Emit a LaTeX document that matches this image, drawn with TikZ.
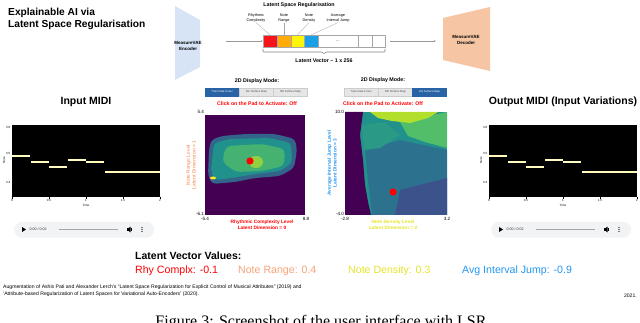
\documentclass[tikz,border=0pt]{standalone}
\usepackage{fontspec}
\setmainfont{Liberation Sans}
\newfontfamily\capfont{Liberation Serif}
\usepackage{tikz}
\usetikzlibrary{arrows.meta, positioning}
\definecolor{encblue}{RGB}{214,228,245}
\definecolor{decpeach}{RGB}{246,197,163}
\definecolor{rcred}{RGB}{245,20,25}
\definecolor{nrorange}{RGB}{255,172,10}
\definecolor{ndyellow}{RGB}{255,245,10}
\definecolor{aijblue}{RGB}{25,160,232}
\definecolor{nrtext}{RGB}{246,163,118}
\definecolor{ndtext}{RGB}{228,228,40}
\definecolor{aijtext}{RGB}{35,150,240}
\definecolor{btnblue}{RGB}{40,100,165}
\definecolor{btngray}{RGB}{230,230,230}
\definecolor{vpurple}{RGB}{68,1,84}
\definecolor{vblue}{RGB}{59,82,139}
\definecolor{vmid}{RGB}{44,113,142}
\definecolor{vteal}{RGB}{33,145,140}
\definecolor{vgreen}{RGB}{94,201,98}
\definecolor{vlime}{RGB}{180,222,44}
\definecolor{vyellow}{RGB}{253,231,37}
\definecolor{noteyel}{RGB}{255,250,190}
\definecolor{playgray}{RGB}{241,243,244}

\begin{document}
\begin{tikzpicture}[
    x=1pt, y=-1pt,
    titletxt/.style={font=\fontsize{10.2}{12}\selectfont\bfseries, inner sep=0, align=left},
    hdr/.style={font=\fontsize{10.5}{12}\selectfont\bfseries, inner sep=0},
    vaetxt/.style={font=\fontsize{4.5}{5.2}\selectfont\bfseries, align=center, inner sep=0},
    cell/.style={draw=gray!70, line width=0.4pt, minimum width=#1, minimum height=12pt, inner sep=0, outer sep=0, font=\fontsize{4}{4}\selectfont},
    celllab/.style={font=\fontsize{3.8}{4.4}\selectfont, align=center, inner sep=0.5pt},
    smallhdr/.style={font=\fontsize{5.3}{6}\selectfont\bfseries, inner sep=0},
    flow/.style={-{Latex[length=2pt, width=1.8pt]}, gray!80, line width=0.5pt},
    bracket/.style={gray, line width=0.6pt, rounded corners=0.8pt},
    btn/.style={fill=btngray, draw=gray!40, line width=0.2pt, minimum width=34pt, minimum height=8pt, inner sep=0, font=\fontsize{2.8}{3}\selectfont, text=gray!60!black},
    btnon/.style={btn, fill=btnblue, draw=btnblue, text=white},
    clicktxt/.style={font=\fontsize{5.2}{6}\selectfont\bfseries, text=red, inner sep=0},
    pad/.style={fill=vpurple, minimum width=100pt, minimum height=100pt, inner sep=0, anchor=north west},
    ticklab/.style={font=\fontsize{4.6}{5}\selectfont, inner sep=0.8pt},
    axlab/.style={font=\fontsize{4.8}{5.8}\selectfont\bfseries, align=center, inner sep=0},
    midi/.style={fill=black, minimum width=148pt, minimum height=72pt, inner sep=0, anchor=north west},
    miditick/.style={font=\fontsize{3}{3}\selectfont, inner sep=0.5pt},
    player/.style={fill=playgray, rounded corners=8pt, minimum width=140pt, minimum height=16pt, inner sep=0, anchor=north west},
    valtxt/.style={font=\fontsize{10.6}{12}\selectfont, anchor=west, inner sep=0},
    foot/.style={font=\fontsize{5.1}{7}\selectfont, align=left, inner sep=0}
]
\clip (0,0) rectangle (640,323);

% Title
\node[titletxt, anchor=north west] (title) at (8,8) {Explainable AI via\\Latent Space Regularisation};

% Encoder / decoder
\fill[encblue] (175,6) -- (200,20) -- (200,67) -- (175,80) -- cycle;
\node[vaetxt] (enc) at (188,46) {MeasureVAE\\Encoder};
\fill[decpeach] (443,18) -- (490,7) -- (490,71) -- (443,60) -- cycle;
\node[vaetxt] (dec) at (466,40) {MeasureVAE\\Decoder};
\coordinate (encout) at (226,41);
\coordinate (decin) at (436,41);

% Latent vector
\node[smallhdr] (lsr) at (299,5) {Latent Space Regularisation};
\node[cell=14pt, fill=rcred, anchor=west] (c1) at (263,41) {};
\node[cell=14pt, fill=nrorange, right=0pt of c1] (c2) {};
\node[cell=13pt, fill=ndyellow, right=0pt of c2] (c3) {};
\node[cell=14pt, fill=aijblue, right=0pt of c3] (c4) {};
\node[cell=40pt, fill=white, right=0pt of c4] (c5) {...};
\node[cell=14pt, fill=white, right=0pt of c5] (c6) {};
\node[cell=13pt, fill=white, right=0pt of c6] (c7) {};
\node[celllab] (l1) at (256,18) {Rhythmic\\Complexity};
\node[celllab] (l2) at (284,18) {Note\\Range};
\node[celllab] (l3) at (309,18) {Note\\Density};
\node[celllab] (l4) at (338,18) {Average\\Interval Jump};
\foreach \i in {1,...,4}
  \draw[gray!70, line width=0.3pt] (l\i.south) -- (c\i.north);
\draw[bracket] ([yshift=-2pt]c1.south west) -- ++(0,3) -- ++(59,0) -- ++(2,2) -- ++(2,-2) -| ([yshift=-2pt]c7.south east);
\node[smallhdr] (veclab) at (324,61) {Latent Vector -- 1 x 256};
\draw[flow] (encout) -- (c1.west);
\draw[flow] ([xshift=5pt]c7.east) -- (decin);

% MIDI plots and players
\foreach \ox/\nm/\ttl in {12/inp/{Input MIDI}, 489/outp/{Output MIDI (Input Variations)}} {
  \begin{scope}[xshift=\ox pt]
    \node[hdr] (\nm-title) at (74,101.5) {\ttl};
    \node[midi] (\nm) at (0,125) {};
    \foreach \a/\b/\y in {0/18/156, 18.5/36.5/162, 37/55/167, 55.5/73.5/160, 74/92/162, 92.5/110.5/172, 111/148/172}
      \fill[noteyel] (\a,{\y-1}) rectangle (\b,{\y+1});
    \foreach \y/\t in {127/C6, 153/C5, 182/C4}
      \node[miditick, anchor=east] at (-1,\y) {\t};
    \node[miditick, rotate=90] (\nm-ylab) at (-8,160) {Note};
    \foreach \x/\t in {0/0, 37/0.5, 74/1, 111/1.5, 148/2} {
      \draw[line width=0.3pt] (\x,197) -- (\x,199);
      \node[miditick, anchor=north] at (\x,199) {\t};
    }
    \node[miditick, anchor=north] (\nm-xlab) at (74,203.5) {Time};
    % player
    \node[player] (\nm-play) at (2,221.5) {};
    \fill (10,227) -- (10,232) -- (14,229.5) -- cycle;
    \node[miditick, font=\fontsize{3.6}{4}\selectfont, text=black!80, anchor=west] at (17,229.5) {0:00 / 0:02};
    \draw[gray!70, line width=0.8pt] (47,229.5) -- (106,229.5);
    \fill (115,228.3) rectangle (116.5,230.7);
    \fill (116.5,228.3) -- (118.5,226.6) -- (118.5,232.4) -- (116.5,230.7) -- cycle;
    \draw[line width=0.3pt] (119.5,228.2) arc[start angle=-40, end angle=40, radius=-2pt];
    \foreach \d in {227.5,229.5,231.5}
      \fill (130,\d) circle (0.55);
  \end{scope}
}

% Pad 1: rhythmic complexity / note range
\node[smallhdr] (mode1) at (257,81) {2D Display Mode:};
\node[btnon, anchor=west] (b11) at (205,92) {Train Data Cover};
\node[btn, right=0pt of b11] (b12) {RC Surface Map};
\node[btn, right=0pt of b12] (b13) {NR Surface Map};
\node[clicktxt] (click1) at (257,104) {Click on the Pad to Activate: Off};
\node[pad] (pad1) at (205,115) {};
\fill[vblue!70!vteal, rounded corners=4pt] (211,140) -- (222,136) -- (245,134) -- (275,134) -- (295,139) -- (297,150) -- (294,168) -- (280,176) -- (255,178) -- (235,182) -- (212,184) -- (208,175) -- (209,150) -- cycle;
\fill[vteal, rounded corners=4pt] (214,143) -- (230,139) -- (270,138) -- (291,143) -- (292,163) -- (280,171) -- (255,174) -- (232,178) -- (214,180) -- (211,170) -- cycle;
\fill[vgreen, opacity=0.6, rounded corners=5pt] (226,146) -- (262,144) -- (285,149) -- (284,166) -- (262,171) -- (236,172) -- (222,162) -- cycle;
\fill[vlime, opacity=0.7] (256,162) ellipse (7 and 6);
\fill[vyellow] (213,178) ellipse (3 and 1.5);
\fill[red] (250,161) circle (3.6);
\node[ticklab, anchor=south east] at (205,115) {5.4};
\node[ticklab, anchor=east] at (205,214) {-6.1};
\node[ticklab, anchor=north] at (205,216) {-5.4};
\node[ticklab, anchor=north] at (306,216) {8.8};
\node[axlab, text=red, anchor=north] (x1) at (262,220) {Rhythmic Complexity Level\\Latent Dimension = 0};
\node[axlab, text=nrtext, rotate=90] (y1) at (191,165) {Note Range Level\\Latent Dimension = 1};

% Pad 2: note density / average interval jump
\node[smallhdr] (mode2) at (383,80) {2D Display Mode:};
\node[btn, anchor=west] (b21) at (344,92) {Train Data Cover};
\node[btn, right=0pt of b21] (b22) {ND Surface Map};
\node[btnon, right=0pt of b22] (b23) {AIJ Surface Map};
\node[clicktxt] (click2) at (383,104) {Click on the Pad to Activate: Off};
\node[pad, fill=vteal, minimum width=102pt, minimum height=103pt] (pad2) at (345,112) {};
\fill[vmid] (365,150) -- (400,140) -- (447,150) -- (447,215) -- (372,215) -- (368,180) -- cycle;
\fill[vblue] (400,190) -- (447,178) -- (447,215) -- (395,215) -- cycle;
\fill[vteal!85!vgreen] (362,125) -- (385,122) -- (400,135) -- (380,148) -- (364,150) -- cycle;
\fill[vgreen!80!vteal] (400,122) -- (447,112) -- (447,148) -- (425,142) -- (408,136) -- cycle;
\fill[vlime] (370,112) -- (438,112) -- (428,118) -- (410,123) -- (392,121) -- (378,118) -- cycle;
\fill[vpurple] (345,112) -- (363,112) -- (360,135) -- (363,160) -- (365,185) -- (368,202) -- (371,215) -- (345,215) -- cycle;
\fill[red] (393,192) circle (3.6);
\node[ticklab, anchor=south east] at (345,115) {10.0};
\node[ticklab, anchor=east] at (345,214) {-4.0};
\node[ticklab, anchor=north] at (345,216) {-2.8};
\node[ticklab, anchor=north] at (447,216) {3.2};
\node[axlab, text=ndtext, anchor=north] (x2) at (393,220) {Note Density Level\\Latent Dimension = 2};
\node[axlab, text=aijtext, rotate=90] (y2) at (332,163) {Average Interval Jump Level\\Latent Dimension = 3};

% Latent vector values
\node[hdr, anchor=west] (vals) at (135,256) {Latent Vector Values:};
\node[valtxt, text=red] (v1) at (135,271) {Rhy Complx: -0.1};
\node[valtxt, text=nrtext] (v2) at (238,271) {Note Range: 0.4};
\node[valtxt, text=ndtext] (v3) at (348,271) {Note Density: 0.3};
\node[valtxt, text=aijtext] (v4) at (462,271) {Avg Interval Jump: -0.9};

% Footer
\node[foot, anchor=north west] (refs) at (3,285) {Augmentation of Ashis Pati and Alexander Lerch's ``Latent Space Regularization for Explicit Control of Musical Attributes'' (2019) and\\`Attribute-based Regularization of Latent Spaces for Variational Auto-Encoders' (2020).};
\node[foot, anchor=east] (year) at (637,295.5) {2021.};
\node[font=\capfont\fontsize{16}{18}\selectfont, anchor=base, inner sep=0] (caption) at (321,326) {Figure 3: Screenshot of the user interface with LSR};

\end{tikzpicture}
\end{document}
